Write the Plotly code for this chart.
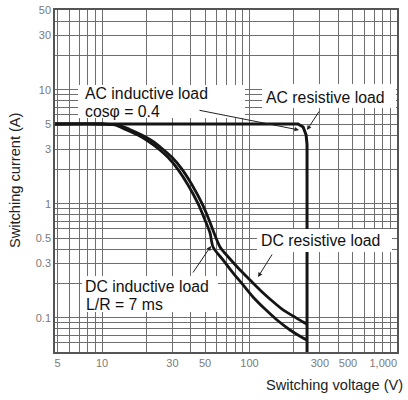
import math
import plotly.graph_objects as go

# ---------------- data ----------------
ac_voltage = [4.8, 213, 231, 242, 245.5, 245.5]
ac_current = [5.0, 5.0, 4.7, 4.0, 3.3, 0.05]

dc_res_voltage = [4.8, 10, 12.8, 15.3, 18.6, 21.9, 25.5, 29.8, 34.9, 40.8, 47.7, 53.2, 57.5,
                  63.1, 73.8, 86.3, 100.8, 117.8, 139.9, 168.8, 197.3, 230.7, 245.5]
dc_res_current = [5.0, 5.0, 4.9, 4.5, 4.0, 3.55, 3.05, 2.55, 2.0, 1.46, 1.0, 0.72, 0.553,
                  0.417, 0.327, 0.262, 0.214, 0.175, 0.143, 0.117, 0.1035, 0.0917, 0.088]

dc_ind_voltage = [4.8, 10, 12.2, 14.3, 17.5, 20.5, 24.0, 28.0, 32.7, 38.3, 44.8, 49.9, 54.0,
                  56.6, 66.1, 77.3, 90.4, 105.6, 127.4, 153.7, 188.2, 230.7, 245.5]
dc_ind_current = [5.0, 5.0, 4.9, 4.5, 4.0, 3.55, 3.05, 2.55, 2.0, 1.46, 1.0, 0.72, 0.553,
                  0.417, 0.321, 0.247, 0.194, 0.152, 0.119, 0.0954, 0.078, 0.0664, 0.0637]

x_tickvals = [5, 6, 7, 8, 9, 10, 20, 30, 40, 50, 60, 70, 80, 90,
              100, 200, 300, 400, 500, 600, 700, 800, 900, 1000]
x_ticktext = ["5", "", "", "", "", "10", "", "30", "", "50", "", "", "", "",
              "100", "", "300", "", "500\u00a0\u00a0\u00a0", "", "", "", "", ""]
x_end_tickvals = [1000]
x_end_ticktext = ["1,000"]

y_tickvals = [0.05, 0.06, 0.07, 0.08, 0.09, 0.1, 0.2, 0.3, 0.4, 0.5, 0.6, 0.7, 0.8, 0.9,
              1, 2, 3, 4, 5, 6, 7, 8, 9, 10, 20, 30, 40, 50]
y_ticktext = ["", "", "", "", "", "0.1", "", "0.3", "", "0.5", "", "", "", "",
              "1", "", "3", "", "5", "", "", "", "", "10", "", "30", "", "50"]

x_title = "Switching voltage (V)"
y_title = "Switching current (A)"

# ---------------- figure ----------------
W, H = 408, 400
ML, MR, MT, MB = 55, 11, 10, 48
PW, PH = W - ML - MR, H - MT - MB


def px(x):
    return (x - ML) / PW


def py(y):
    return (MT + PH - y) / PH


LINE = "#151515"
fig = go.Figure()
fig.add_trace(go.Scatter(x=ac_voltage, y=ac_current, mode="lines", xaxis="x2",
                         line=dict(color=LINE, width=3), name="AC load"))
fig.add_trace(go.Scatter(x=dc_res_voltage, y=dc_res_current, mode="lines",
                         line=dict(color=LINE, width=2.8, shape="spline", smoothing=0.8),
                         name="DC resistive load"))
fig.add_trace(go.Scatter(x=dc_ind_voltage, y=dc_ind_current, mode="lines",
                         line=dict(color=LINE, width=2.8, shape="spline", smoothing=0.8),
                         name="DC inductive load"))

GRID = "#6e6e6e"
TICKF = dict(family="Liberation Sans, Arial, sans-serif", size=11, color="#7a7a7a")
XRANGE = [math.log10(4.8), 3]
fig.update_layout(
    xaxis=dict(type="log", range=XRANGE, tickmode="array",
               tickvals=x_tickvals, ticktext=x_ticktext, showgrid=True,
               gridcolor=GRID, gridwidth=1.2, ticks="", tickfont=TICKF,
               showline=True, mirror=True, linecolor="#555", linewidth=1.5,
               zeroline=False, automargin=False, tickangle=0),
    xaxis2=dict(type="log", range=XRANGE, overlaying="x", side="bottom", anchor="y",
                tickmode="array", tickvals=x_end_tickvals, ticktext=x_end_ticktext,
                showgrid=False, ticks="", tickfont=TICKF, showline=False,
                zeroline=False, automargin=False, tickangle=0,
                ticklabelposition="outside left", ticklabelstandoff=3),
    yaxis=dict(type="log", range=[math.log10(0.05), math.log10(50)], tickmode="array",
               tickvals=y_tickvals, ticktext=y_ticktext, showgrid=True,
               gridcolor=GRID, gridwidth=1.2, ticks="", tickfont=TICKF,
               showline=True, mirror=True, linecolor="#555", linewidth=1.5,
               zeroline=False, automargin=False),
)

# white label boxes (cover grid and lines)
boxes = [(78, 85, 245, 118), (262, 84, 396, 108), (257, 229, 392, 252), (82, 276, 218, 312)]
shapes = []
for x0, y0, x1, y1 in boxes:
    shapes.append(dict(type="rect", xref="paper", yref="paper",
                       x0=px(x0), x1=px(x1), y0=py(y1), y1=py(y0),
                       fillcolor="white", line=dict(width=0), layer="above"))

LABF = dict(family="Liberation Sans, Arial, sans-serif", size=15.8, color="#111")
texts = [("AC inductive load", 84, 93.5), ("cos\u03c6 = 0.4", 84, 111.5),
         ("AC resistive load", 265, 97), ("DC resistive load", 260, 240),
         ("DC inductive load", 84, 286), ("L/R = 7 ms", 85, 304)]
ann = []
for t, x, y in texts:
    ann.append(dict(text=t, xref="paper", yref="paper", x=px(x), y=py(y),
                    xanchor="left", yanchor="middle", showarrow=False, font=LABF,
                    borderpad=0))

# leader arrows: (tail x, tail y, tip x, tip y)
arrows = [(198, 110, 299, 130), (320, 110, 307, 130), (273, 253, 258, 277), (192, 274, 211, 246)]
for tx, ty, hx, hy in arrows:
    ann.append(dict(text="", xref="paper", yref="paper", x=px(hx), y=py(hy),
                    ax=tx - hx, ay=ty - hy, showarrow=True, arrowhead=2,
                    arrowsize=0.9, arrowwidth=1, arrowcolor="#222", standoff=0))

TITF = dict(family="Liberation Sans, Arial, sans-serif", size=14.6, color="#222")
ann.append(dict(text=y_title, xref="paper", yref="paper", x=px(15), y=py(181),
                xanchor="center", yanchor="middle", textangle=-90, showarrow=False, font=TITF))
ann.append(dict(text=x_title, xref="paper", yref="paper", x=px(405), y=py(385),
                xanchor="right", yanchor="middle", showarrow=False, font=TITF))

fig.update_layout(width=W, height=H, margin=dict(l=ML, r=MR, t=MT, b=MB),
                  paper_bgcolor="white", plot_bgcolor="white", showlegend=False,
                  shapes=shapes, annotations=ann)

fig.write_html("out.html", config={"displayModeBar": False},
               post_script="document.body.style.margin='0px';document.body.style.padding='0px';")
